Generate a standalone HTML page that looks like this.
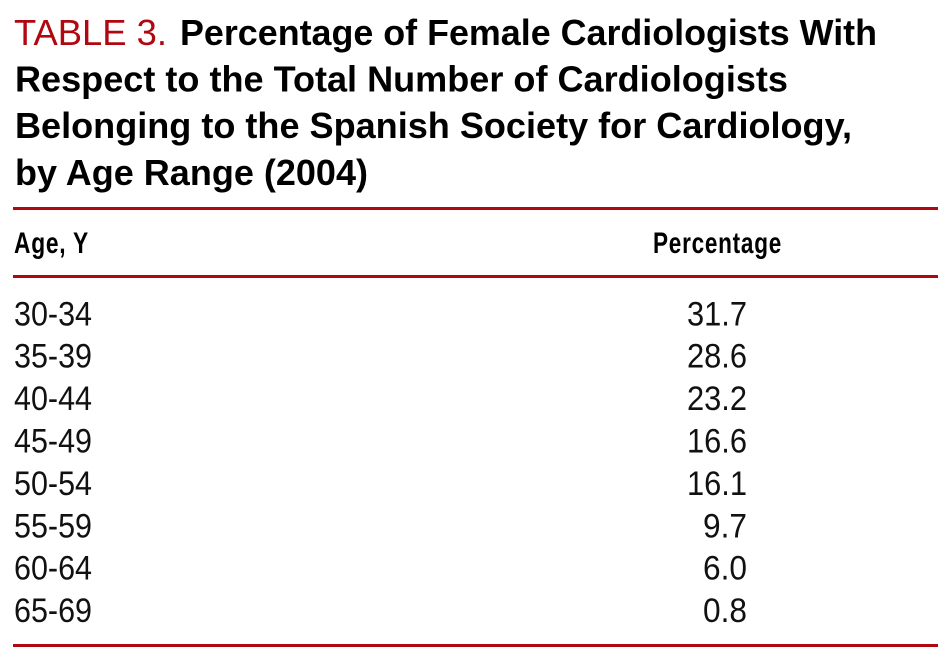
<!DOCTYPE html>
<html>
<head>
<meta charset="utf-8">
<style>
html,body{margin:0;padding:0;background:#fff;width:944px;height:664px;overflow:hidden}
svg{display:block}
text{font-family:"Liberation Sans",sans-serif;fill:#000}
.t{font-size:36px;font-weight:bold}
.h{font-size:30px;font-weight:bold;letter-spacing:1px}
.v{font-size:34px;fill:#111}
.r{fill:#b00710}
</style>
</head>
<body>
<svg width="944" height="664" viewBox="0 0 944 664">
<g>
<text class="t r" style="font-weight:normal" x="14" y="45" textLength="153" lengthAdjust="spacingAndGlyphs">TABLE 3.</text>
<text class="t" x="180" y="45" textLength="697" lengthAdjust="spacingAndGlyphs">Percentage of Female Cardiologists With</text>
<text class="t" x="15" y="91.5" textLength="773" lengthAdjust="spacingAndGlyphs">Respect to the Total Number of Cardiologists</text>
<text class="t" x="15" y="138" textLength="837" lengthAdjust="spacingAndGlyphs">Belonging to the Spanish Society for Cardiology,</text>
<text class="t" x="15" y="185" textLength="353" lengthAdjust="spacingAndGlyphs">by Age Range (2004)</text>
</g>
<rect class="r" x="13" y="207" width="925" height="3"/>
<text class="h" x="14" y="253" textLength="75" lengthAdjust="spacingAndGlyphs">Age, Y</text>
<text class="h" x="653" y="253" textLength="129" lengthAdjust="spacingAndGlyphs">Percentage</text>
<rect class="r" x="13" y="275" width="925" height="3"/>
<g><text class="v" x="14" y="325.5" textLength="78" lengthAdjust="spacingAndGlyphs">30-34</text><text class="v" x="687" y="325.5" textLength="60" lengthAdjust="spacingAndGlyphs">31.7</text></g>
<g><text class="v" x="14" y="367.5" textLength="78" lengthAdjust="spacingAndGlyphs">35-39</text><text class="v" x="687" y="367.5" textLength="60" lengthAdjust="spacingAndGlyphs">28.6</text></g>
<g><text class="v" x="14" y="410" textLength="78" lengthAdjust="spacingAndGlyphs">40-44</text><text class="v" x="687" y="410" textLength="60" lengthAdjust="spacingAndGlyphs">23.2</text></g>
<g><text class="v" x="14" y="452.5" textLength="78" lengthAdjust="spacingAndGlyphs">45-49</text><text class="v" x="687" y="452.5" textLength="60" lengthAdjust="spacingAndGlyphs">16.6</text></g>
<g><text class="v" x="14" y="495" textLength="78" lengthAdjust="spacingAndGlyphs">50-54</text><text class="v" x="687" y="495" textLength="60" lengthAdjust="spacingAndGlyphs">16.1</text></g>
<g><text class="v" x="14" y="537.5" textLength="78" lengthAdjust="spacingAndGlyphs">55-59</text><text class="v" x="703" y="537.5" textLength="44" lengthAdjust="spacingAndGlyphs">9.7</text></g>
<g><text class="v" x="14" y="579.5" textLength="78" lengthAdjust="spacingAndGlyphs">60-64</text><text class="v" x="703" y="579.5" textLength="44" lengthAdjust="spacingAndGlyphs">6.0</text></g>
<g><text class="v" x="14" y="622" textLength="78" lengthAdjust="spacingAndGlyphs">65-69</text><text class="v" x="703" y="622" textLength="44" lengthAdjust="spacingAndGlyphs">0.8</text></g>
<rect class="r" x="13" y="644" width="925" height="3"/>
</svg>
</body>
</html>
